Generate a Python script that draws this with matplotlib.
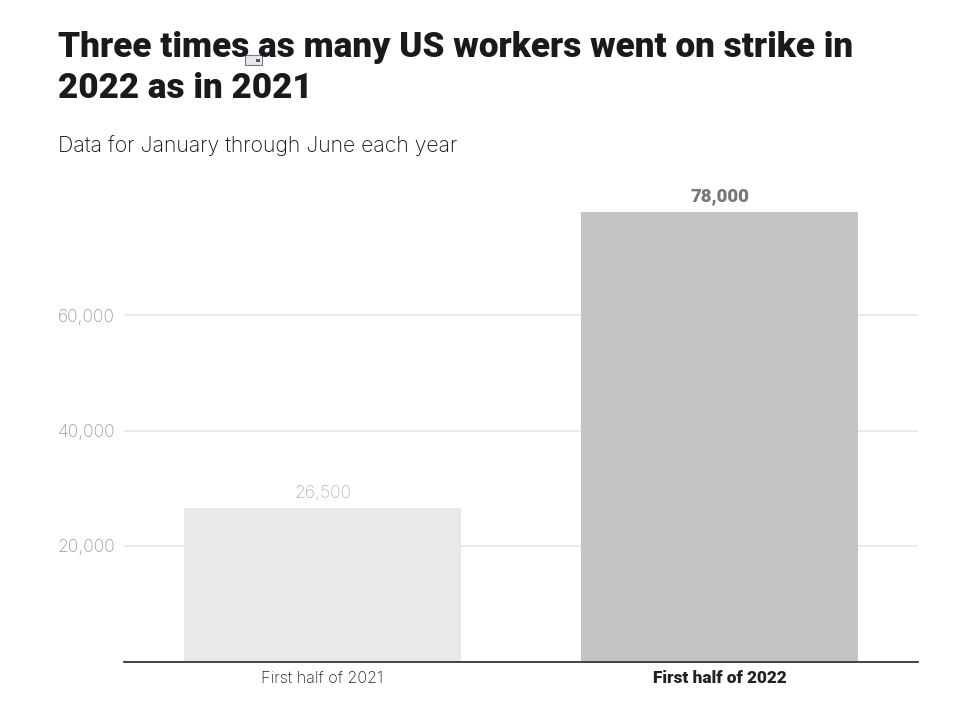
import matplotlib
matplotlib.use('Agg')
import matplotlib.pyplot as plt
from matplotlib.patches import Rectangle

# data
categories = ['First half of 2021', 'First half of 2022']
strikers = [26500, 78000]
value_labels = ['26,500', '78,000']
yticks = [20000, 40000, 60000]
ytick_labels = ['20,000', '40,000', '60,000']

title_lines = ['Three times as many US workers went on strike in', '2022 as in 2021']
subtitle = 'Data for January through June each year'

W, H = 958, 711
body_font = ['Inter', 'DejaVu Sans']
head_font = ['Roboto', 'DejaVu Sans']
plt.rcParams['font.family'] = body_font

fig = plt.figure(figsize=(W / 100, H / 100), dpi=100)
# plot area in pixels: x 124-918, zero line at y=660.7
ax = fig.add_axes([124 / W, 1 - 660.7 / H, 794 / W, (660.7 - 200) / H])

# this resets the ticks, so it has to come before the tick styling
for s in ['top', 'left', 'right']:
    ax.spines[s].set_visible(False)
ax.spines['bottom'].set_color('#222222')
ax.spines['bottom'].set_linewidth(1.2)
ax.spines['bottom'].set_position(('outward', 0.9))

ax.set_xlim(-0.5, 1.5)
ax.set_ylim(0, 460.7 * 20000 / 115.1)

ax.bar([0, 1], strikers, width=0.698, color=['#e9e9e9', '#c4c4c4'], zorder=2)
ax.grid(axis='y', color='#e8e8e8', linewidth=1.2, zorder=1)
ax.set_axisbelow(True)

ax.set_yticks(yticks)
ax.set_yticklabels(ytick_labels, fontsize=12.6, color='#9c9c9c', fontweight='light')
ax.set_xticks([0, 1])
ax.set_xticklabels(categories, fontsize=11.6, color='#222222', fontweight='light')
ax.get_xticklabels()[1].set_fontweight('black')
ax.get_xticklabels()[1].set_fontfamily(head_font)
ax.get_xticklabels()[1].set_fontsize(12.4)
ax.get_xticklabels()[1].set_color('#222222')
ax.tick_params(axis='both', length=0)
ax.tick_params(axis='y', pad=6.5)
ax.tick_params(axis='x', pad=6)

ax.text(0, strikers[0] + 1100, value_labels[0], ha='center', va='bottom', fontsize=12.6, color='#b8b8b8', fontweight='light')
ax.text(1, strikers[1] + 1100, value_labels[1], ha='center', va='bottom', fontsize=13.4, color='#777777', fontweight='black', family=head_font)

fig.text(58 / W, 1 - 47 / H, title_lines[0], fontsize=25.25, fontweight='black', color='#1a1a1a', ha='left', va='center', family=head_font)
fig.text(58 / W, 1 - 89 / H, title_lines[1], fontsize=25.25, fontweight='black', color='#1a1a1a', ha='left', va='center', family=head_font)
fig.text(58 / W, 1 - 145.5 / H, subtitle, fontsize=15.3, color='#111111', ha='left', va='center', fontweight='light')

# little icon sitting on the title in the original
fig.add_artist(Rectangle((245 / W, 1 - 65 / H), 17 / W, 10 / H, transform=fig.transFigure,
                         facecolor='#e8e8f0', edgecolor='#77778f', linewidth=0.8))
fig.add_artist(Rectangle((256 / W, 1 - 62 / H), 4 / W, 3 / H, transform=fig.transFigure,
                         facecolor='#555566', edgecolor='none'))

fig.savefig('out.png', dpi=100)
